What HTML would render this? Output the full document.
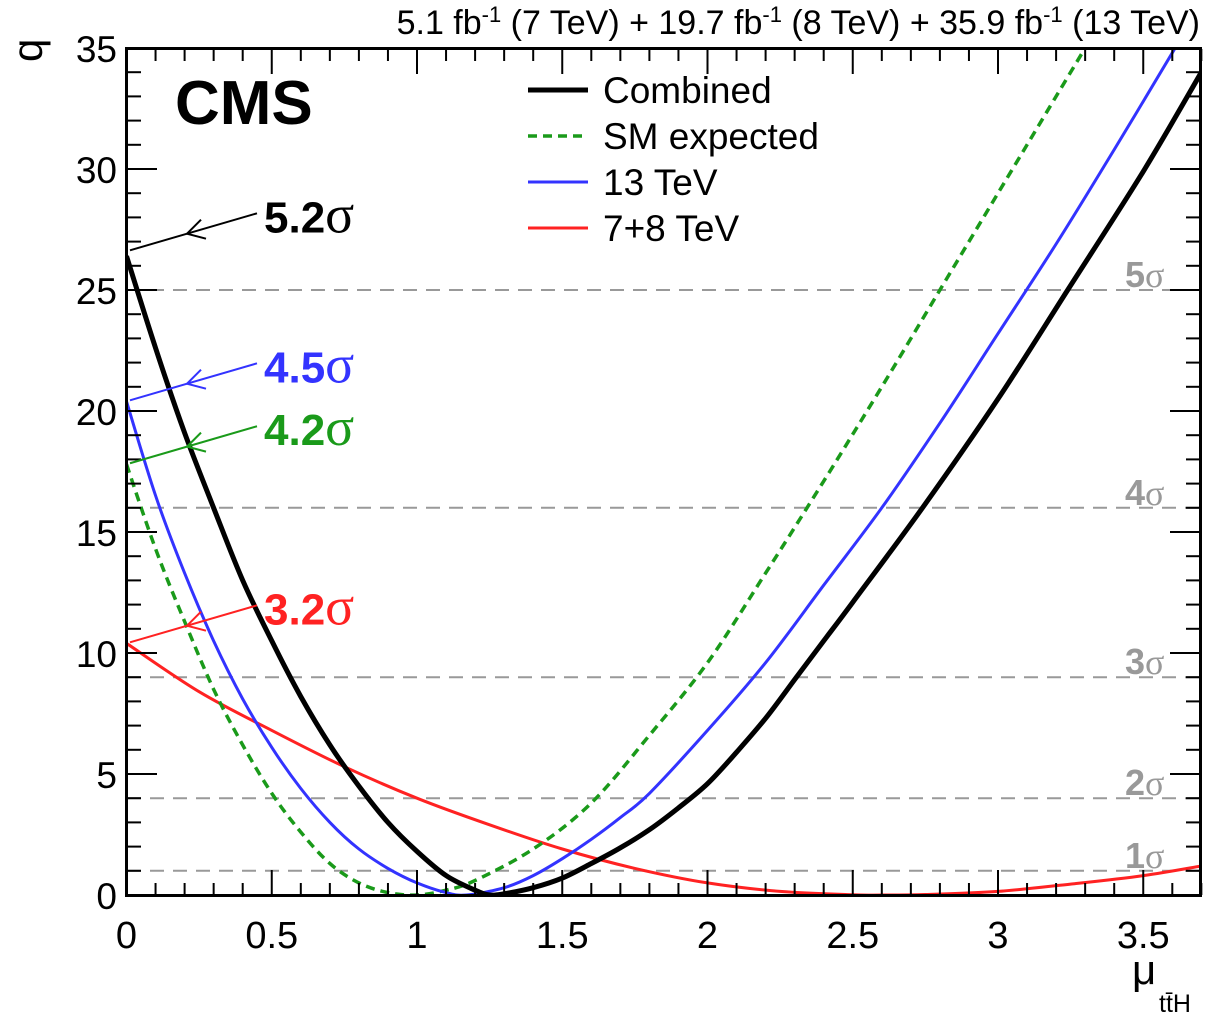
<!DOCTYPE html>
<html><head><meta charset="utf-8"><style>
body{margin:0;background:#fff;}
svg{display:block;font-family:"Liberation Sans",Arial,sans-serif;}
</style></head><body>
<svg id="chart" width="1210" height="1018">
<g id="grid"></g>
<g id="series"></g>
<rect x="126.5" y="48.5" width="1074" height="847" fill="none" stroke="#000" stroke-width="3"/>
<g id="ticks"></g>
<text x="175" y="124" font-size="62" font-weight="bold">CMS</text>
<text x="1200" y="34" font-size="34" text-anchor="end">5.1 fb<tspan dy="-12" font-size="22">-1</tspan><tspan dy="12"> (7 TeV) + 19.7 fb</tspan><tspan dy="-12" font-size="22">-1</tspan><tspan dy="12"> (8 TeV) + 35.9 fb</tspan><tspan dy="-12" font-size="22">-1</tspan><tspan dy="12"> (13 TeV)</tspan></text>
<text transform="translate(42,62) rotate(-90)" font-size="42">q</text>
<g><text x="1132" y="984" font-size="42">μ</text><text x="1159" y="1012" font-size="25">tt̄H</text></g>
<g id="legend"></g>
<g id="annot"></g>
</svg>
<script>
const combX=[0,0.1,0.2,0.3,0.4,0.5,0.6,0.7,0.8,0.9,1.0,1.1,1.2,1.25,1.3,1.4,1.5,1.6,1.7,1.8,1.9,2.0,2.1,2.2,2.3,2.4,2.5,2.74,3.0,3.24,3.5,3.7];
const combY=[26.4,22.6,19.1,16,13,10.5,8.2,6.2,4.5,3,1.8,0.8,0.2,0,0.05,0.3,0.7,1.3,1.95,2.7,3.6,4.6,5.9,7.3,8.9,10.5,12.1,16,20.5,25,29.9,34];
const blueX=[0,0.1,0.2,0.3,0.4,0.5,0.6,0.7,0.8,0.9,1.0,1.1,1.17,1.3,1.4,1.5,1.6,1.7,1.8,2.0,2.2,2.4,2.6,2.8,3.0,3.2,3.4,3.6,3.7];
const blueY=[20.4,16.5,13.3,10.5,8.1,6.1,4.4,3,1.9,1.1,0.5,0.1,0,0.3,0.8,1.5,2.3,3.2,4.2,6.8,9.6,12.8,16,19.5,23.2,26.9,30.8,34.8,36.8];
const greenX=[0,0.1,0.2,0.3,0.4,0.5,0.6,0.7,0.8,0.9,1.0,1.1,1.2,1.4,1.6,1.8,2.0,2.2,2.4,2.6,2.8,3.0,3.2,3.3];
const greenY=[17.8,14.3,11.3,8.5,6.2,4.2,2.6,1.3,0.5,0.1,0,0.2,0.6,1.9,3.8,6.6,9.6,13.3,17.1,21,25,29,33,35];
const redX=[0,0.25,0.5,0.75,1,1.25,1.5,1.75,2,2.25,2.5,2.6,2.75,3,3.25,3.5,3.7];
const redY=[10.4,8.4,6.8,5.3,4.0,2.9,1.9,1.1,0.5,0.15,0.01,0,0.02,0.15,0.45,0.8,1.2];
const sigmaVals=[1,4,9,16,25];
const sigmaLabels=["1σ","2σ","3σ","4σ","5σ"];
const xTicks=[0,0.5,1,1.5,2,2.5,3,3.5];
const xTickLabels=["0","0.5","1","1.5","2","2.5","3","3.5"];
const yTicks=[0,5,10,15,20,25,30,35];
const yTickLabels=["0","5","10","15","20","25","30","35"];
const legendLabels=["Combined","SM expected","13 TeV","7+8 TeV"];
const annotLabels=["5.2σ","4.5σ","4.2σ","3.2σ"];
const annotQ=[26.6,20.4,17.8,10.4];

const X=v=>126.5+v*290.5, Y=v=>895-v*24.2;
const NS="http://www.w3.org/2000/svg";
function mk(tag,attrs,parent){const e=document.createElementNS(NS,tag);for(const k in attrs)e.setAttribute(k,attrs[k]);parent.appendChild(e);return e;}
const grid=document.getElementById('grid'),series=document.getElementById('series'),ticks=document.getElementById('ticks'),leg=document.getElementById('legend'),ann=document.getElementById('annot');
sigmaVals.forEach((s,i)=>{
 const l=mk('line',{x1:127,x2:1200,y1:Y(s),y2:Y(s),stroke:'#999','stroke-width':2,'stroke-dasharray':'14,9'},grid);
 
 
 const t=mk('text',{x:1125,y:Y(s)-3,'font-size':36,'font-weight':'bold',fill:'#999'},grid);
 
 
 t.innerHTML=sigmaLabels[i].replace('σ','<tspan font-weight="normal" font-family="Liberation Serif">σ</tspan>');
});
const defs=mk('clipPath',{id:'clip'},series);mk('rect',{x:127,y:49,width:1073,height:846},defs);
function curve(xs,ys,color,w,dash,name){
 const P=xs.map((x,i)=>[X(x),Y(ys[i])]);
 let d='M'+P[0][0].toFixed(1)+','+P[0][1].toFixed(1);
 for(let i=0;i<P.length-1;i++){
  const p0=P[Math.max(0,i-1)],p1=P[i],p2=P[i+1],p3=P[Math.min(P.length-1,i+2)];
  const c1=[p1[0]+(p2[0]-p0[0])/6,p1[1]+(p2[1]-p0[1])/6];
  const c2=[p2[0]-(p3[0]-p1[0])/6,p2[1]-(p3[1]-p1[1])/6];
  d+=`C${c1[0].toFixed(1)},${c1[1].toFixed(1)} ${c2[0].toFixed(1)},${c2[1].toFixed(1)} ${p2[0].toFixed(1)},${p2[1].toFixed(1)}`;
 }
 const p=mk('path',{d:d,fill:'none',stroke:color,'stroke-width':w,'clip-path':'url(#clip)','stroke-linejoin':'round'},series);
 if(dash)p.setAttribute('stroke-dasharray',dash);
 
 
}
curve(redX,redY,'#f22',3,null,'curve-7-8tev');
curve(greenX,greenY,'#1a9a1a',3.5,'9,6','curve-sm-expected');
curve(blueX,blueY,'#33f',3,null,'curve-13tev');
curve(combX,combY,'#000',5,null,'curve-combined');
for(let k=0;k<=37;k++){const v=k/10;const maj=k%5===0;const L=maj?25:12;
 mk('line',{x1:X(v),x2:X(v),y1:895,y2:895-L,stroke:'#000','stroke-width':2},ticks);
 mk('line',{x1:X(v),x2:X(v),y1:49,y2:49+L,stroke:'#000','stroke-width':2},ticks);}
for(let k=0;k<=35;k++){const maj=k%5===0;const L=maj?30:14;
 mk('line',{x1:127,x2:127+L,y1:Y(k),y2:Y(k),stroke:'#000','stroke-width':2},ticks);
 mk('line',{x1:1200,x2:1200-L,y1:Y(k),y2:Y(k),stroke:'#000','stroke-width':2},ticks);}
xTicks.forEach((v,i)=>{const t=mk('text',{x:X(v),y:948,'font-size':38,'text-anchor':'middle'},ticks);
 
 
 t.textContent=xTickLabels[i];});
yTicks.forEach((v,i)=>{const t=mk('text',{x:117,y:Y(v)+14,'font-size':37,'text-anchor':'end'},ticks);
 
 
 t.textContent=yTickLabels[i];});
const legC=['#000','#1a9a1a','#33f','#f22'],legW=[5,3.5,3,3],legD=[null,'9,6',null,null];
legendLabels.forEach((s,i)=>{const y=90+i*46;
 const l=mk('line',{x1:528,x2:588,y1:y,y2:y,stroke:legC[i],'stroke-width':legW[i]},leg);
 if(legD[i])l.setAttribute('stroke-dasharray',legD[i]);
 
 
 const t=mk('text',{x:603,y:y+13,'font-size':37},leg);
 
 
 t.textContent=s;});
const annC=['#000','#33f','#1a9a1a','#f22'];
annotQ.forEach((q,i)=>{const y0=Y(q)-1;const y1=y0-37;const c=annC[i];
 mk('line',{x1:130,y1:y0,x2:257,y2:y1,stroke:c,'stroke-width':2},ann);
 const mx=187,my=y0+(y1-y0)*(57/127);
 mk('path',{d:`M${mx+14},${my-14}L${mx},${my}L${mx+19},${my+5}`,fill:'none',stroke:c,'stroke-width':2},ann);
 const t=mk('text',{x:264,y:y1+19,'font-size':44,'font-weight':'bold',fill:c},ann);
 
 
 t.innerHTML=annotLabels[i].replace('σ','<tspan font-weight="normal" font-family="Liberation Serif" font-size="54">σ</tspan>');});
</script>
</body></html>
